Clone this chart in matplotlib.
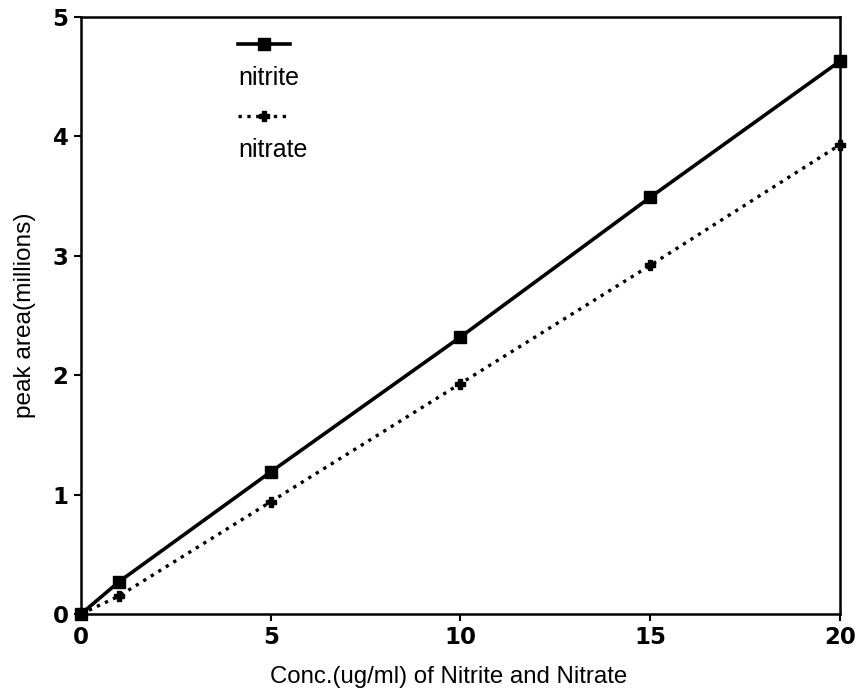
import matplotlib
matplotlib.use("Agg")
import matplotlib.pyplot as plt

conc = [0, 1, 5, 10, 15, 20]
nitrite = [0, 0.27, 1.19, 2.32, 3.49, 4.63]
nitrate = [0, 0.15, 0.94, 1.93, 2.92, 3.93]
xticks = [0, 5, 10, 15, 20]
yticks = [0, 1, 2, 3, 4, 5]

plt.rcParams['font.family'] = ['Liberation Sans', 'DejaVu Sans']

fig = plt.figure(figsize=(8.58, 6.93), dpi=100)
ax = fig.add_axes([0.0944, 0.114, 0.8846, 0.8615])

ax.plot(conc, nitrite, '-', color='black', lw=2.6, marker='s', ms=8, clip_on=False, zorder=3)
ax.plot(conc, nitrate, ':', color='black', lw=2.4, marker='P', ms=7, clip_on=False, zorder=3)

ax.set_xlim(0, 20)
ax.set_ylim(0, 5)
ax.set_xticks(xticks)
ax.set_yticks(yticks)
ax.tick_params(direction='out', length=5, width=1.5, pad=4)
for lab in ax.get_xticklabels() + ax.get_yticklabels():
    lab.set_family('DejaVu Sans')
    lab.set_fontweight('bold')
    lab.set_fontsize(16.5)
for s in ax.spines.values():
    s.set_linewidth(1.8)

ax.set_xlabel('Conc.(ug/ml) of Nitrite and Nitrate', fontsize=17.3, labelpad=9)
ax.xaxis.set_label_coords(0.485, -0.087)
ax.set_ylabel('peak area(millions)', fontsize=17.6, labelpad=12)

# legend drawn manually (label below handle)
tr = ax.transAxes
ax.plot([0.207, 0.275], [0.955, 0.955], '-', color='black', lw=2.6, transform=tr)
ax.plot([0.241], [0.955], 's', color='black', ms=8, transform=tr)
ax.text(0.207, 0.898, 'nitrite', transform=tr, fontsize=18, va='center', ha='left')
ax.plot([0.207, 0.275], [0.834, 0.834], ':', color='black', lw=2.4, transform=tr)
ax.plot([0.241], [0.834], 'P', color='black', ms=7, transform=tr)
ax.text(0.207, 0.777, 'nitrate', transform=tr, fontsize=18, va='center', ha='left')

fig.savefig('out.png', dpi=100)
